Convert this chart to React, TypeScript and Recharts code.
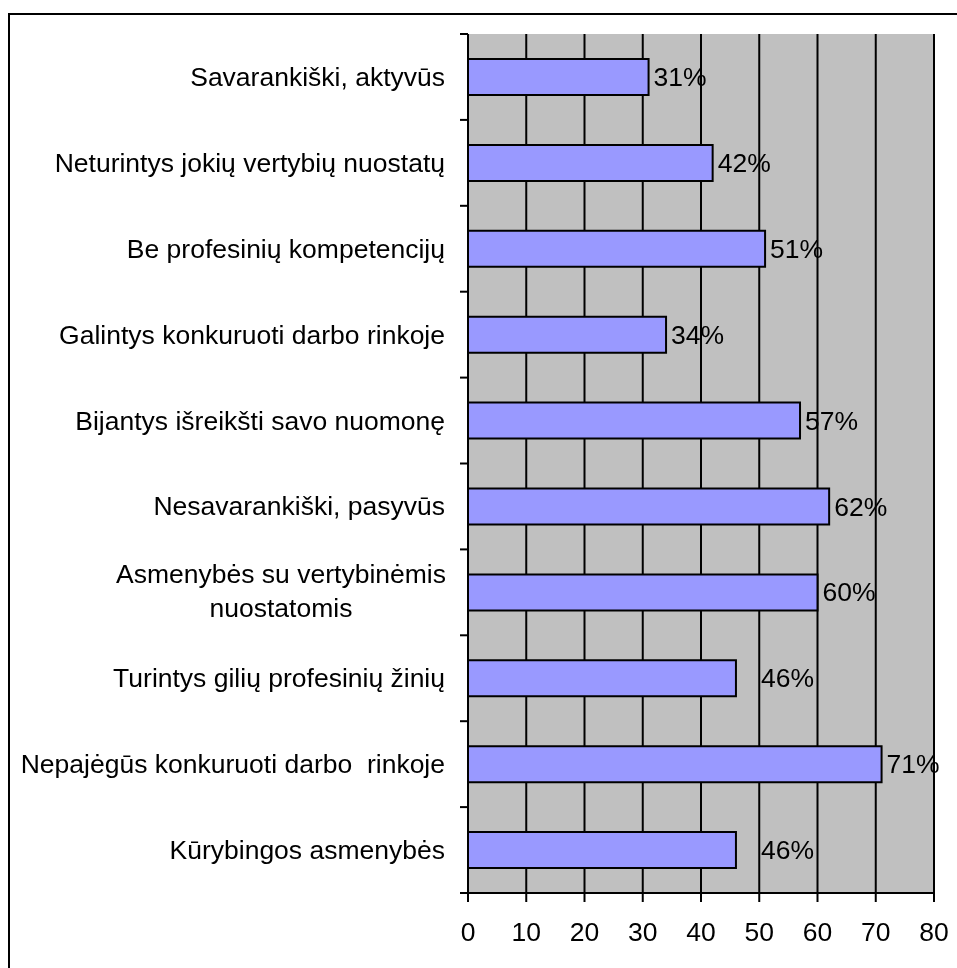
import { BarChart, Bar, XAxis, YAxis, CartesianGrid, LabelList } from "recharts";

const categories = [
  "Savarankiški, aktyvūs",
  "Neturintys jokių vertybių nuostatų",
  "Be profesinių kompetencijų",
  "Galintys konkuruoti darbo rinkoje",
  "Bijantys išreikšti savo nuomonę",
  "Nesavarankiški, pasyvūs",
  "Asmenybės su vertybinėmis\nnuostatomis",
  "Turintys gilių profesinių žinių",
  "Nepajėgūs konkuruoti darbo  rinkoje",
  "Kūrybingos asmenybės",
];
const shares = [31, 42, 51, 34, 57, 62, 60, 46, 71, 46];
const xTicks = [0, 10, 20, 30, 40, 50, 60, 70, 80];

const data = categories.map((name, i) => ({ name, value: shares[i] }));

const FONT = "'Liberation Sans', Arial, sans-serif";
const FS = 26.5;
const W = 941;
const H = 952;
const MARGIN = { top: 26, right: 15, bottom: 17, left: 0 };
const Y_W = 460;
const X_H = 50;
const PLOT_H = H - MARGIN.top - MARGIN.bottom - X_H;
const BAND = PLOT_H / categories.length;

// Excel had a couple of labels dragged a bit further right
const labelNudge: Record<number, number> = { 7: 20, 9: 20 };

function CategoryTick(props: any) {
  const { x, y, payload, index } = props;
  const lines = String(payload.value).split("\n");
  const isLast = index === categories.length - 1;
  const cx = x - 23 - 164;
  return (
    <g>
      <line x1={x - 8} x2={x} y1={y - BAND / 2} y2={y - BAND / 2} stroke="#000" strokeWidth={2} />
      {isLast && (
        <line x1={x - 8} x2={x} y1={y + BAND / 2} y2={y + BAND / 2} stroke="#000" strokeWidth={2} />
      )}
      {lines.length === 1 ? (
        <text x={x - 23} y={y} textAnchor="end" dominantBaseline="central" fontSize={FS} fill="#000" style={{ whiteSpace: "pre" }}>
          {lines[0]}
        </text>
      ) : (
        <text x={cx} y={y} textAnchor="middle" fontSize={FS} fill="#000">
          {lines.map((l, i) => (
            <tspan key={i} x={cx} dy={i === 0 ? -9 : 34}>
              {l}
            </tspan>
          ))}
        </text>
      )}
    </g>
  );
}

function ValueLabel(props: any) {
  const { x, y, width, height, value, index } = props;
  return (
    <text
      x={x + width + 5 + (labelNudge[index] || 0)}
      y={y + height / 2}
      dominantBaseline="central"
      fontSize={FS}
      fill="#000"
    >
      {value}%
    </text>
  );
}

export default function App() {
  return (
    <div style={{ position: "relative", width: W, height: H, overflow: "hidden", fontFamily: FONT }}>
      {/* outer frame runs off the right and bottom of the page */}
      <div
        style={{
          position: "fixed",
          left: 8,
          top: 13,
          width: 1000,
          height: 1000,
          border: "2px solid #000",
          boxSizing: "border-box",
        }}
      />
      <div style={{ position: "absolute", left: 0, top: 0 }}>
        <BarChart width={W} height={H} data={data} layout="vertical" margin={MARGIN} style={{ fontFamily: FONT }}>
          <CartesianGrid horizontal={false} stroke="#000" strokeWidth={2} fill="#c0c0c0" fillOpacity={1} />
          <XAxis
            type="number"
            domain={[0, 80]}
            ticks={xTicks}
            height={X_H}
            tickSize={9}
            tickMargin={20}
            axisLine={{ stroke: "#000", strokeWidth: 2 }}
            tickLine={{ stroke: "#000", strokeWidth: 2 }}
            tick={{ fill: "#000", fontSize: FS }}
          />
          <XAxis
            xAxisId="top"
            orientation="top"
            type="number"
            domain={[0, 80]}
            height={0}
            tick={false}
            tickLine={false}
            axisLine={{ stroke: "#808080", strokeWidth: 2 }}
          />
          <YAxis
            dataKey="name"
            type="category"
            width={Y_W}
            interval={0}
            tickLine={false}
            tickSize={0}
            tickMargin={0}
            axisLine={{ stroke: "#000", strokeWidth: 2 }}
            tick={<CategoryTick />}
          />
          <YAxis
            yAxisId="right"
            orientation="right"
            dataKey="name"
            type="category"
            width={0}
            tick={false}
            tickLine={false}
            axisLine={{ stroke: "#808080", strokeWidth: 2 }}
          />
          <Bar dataKey="value" fill="#9999ff" stroke="#000" strokeWidth={2} barSize={36} isAnimationActive={false}>
            <LabelList dataKey="value" content={<ValueLabel />} />
          </Bar>
        </BarChart>
      </div>
    </div>
  );
}
